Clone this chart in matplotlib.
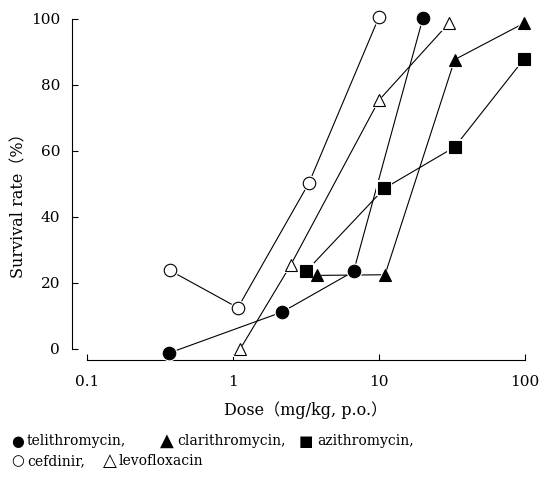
import matplotlib
matplotlib.use("Agg")
import matplotlib.pyplot as plt

# Data (dose mg/kg, survival %)
teli_dose = [0.366, 2.17, 6.7, 20.0]
teli_surv = [-1.2, 11.2, 23.5, 100.3]

clari_dose = [3.74, 11.0, 33.0, 99.0]
clari_surv = [22.3, 22.5, 87.7, 98.8]

azi_dose = [3.16, 10.9, 33.0, 99.0]
azi_surv = [23.5, 48.7, 61.2, 88.0]

cef_dose = [0.37, 1.08, 3.32, 10.0]
cef_surv = [23.8, 12.5, 50.4, 100.6]

levo_dose = [1.12, 2.48, 10.0, 30.2]
levo_surv = [0.0, 25.4, 75.4, 98.8]

xticks = [0.1, 1, 10, 100]
xticklabels = ["0.1", "1", "10", "100"]
yticks = [0, 20, 40, 60, 80, 100]

serif = ["DejaVu Serif", "Noto Sans CJK JP", "DejaVu Sans"]
plt.rcParams["font.family"] = serif

W, H = 541, 482
fig = plt.figure(figsize=(W / 100, H / 100), dpi=100)
left = 87 / W
right = 525 / W
top = 1 - 19 / H
bottom = 1 - 360 / H
ax = fig.add_axes([left, bottom, right - left, top - bottom])

ax.set_xscale("log")
ax.set_xlim(0.1, 100)
ax.set_ylim((349 - 360) / 3.3, 100)

lw = 0.8
series = [
    (cef_dose, cef_surv, "o", "white"),
    (levo_dose, levo_surv, "^", "white"),
    (teli_dose, teli_surv, "o", "black"),
    (azi_dose, azi_surv, "s", "black"),
    (clari_dose, clari_surv, "^", "black"),
]
for xs, ys, m, fc in series:
    ax.plot(xs, ys, color="black", lw=lw, clip_on=False, zorder=2)
    ax.plot(xs, ys, ls="none", marker=m, ms=11.5, mfc="white", mec="white",
            mew=0, clip_on=False, zorder=3)
for xs, ys, m, fc in series:
    ax.plot(xs, ys, ls="none", marker=m, ms=9, mfc=fc, mec="black", mew=0.8,
            clip_on=False, zorder=4)

for s in ["top", "right"]:
    ax.spines[s].set_visible(False)
ax.spines["left"].set_position(("outward", 10.8))
ax.spines["left"].set_bounds(0, 100)
ax.spines["left"].set_linewidth(0.8)
ax.spines["bottom"].set_linewidth(0.8)

ax.set_xticks(xticks)
ax.set_xticklabels(xticklabels)
ax.xaxis.set_minor_locator(matplotlib.ticker.NullLocator())
ax.set_yticks(yticks)
ax.tick_params(axis="both", direction="in", length=4.5, width=0.8, labelsize=11)
ax.tick_params(axis="x", pad=11)
ax.tick_params(axis="y", pad=8.6)

fig.text(306 / W, 1 - 410 / H, "Dose（mg/kg, p.o.）", ha="center", va="center", fontsize=11.5)
fig.text(19 / W, 1 - 202 / H, "Survival rate（%）", ha="center", va="center",
         rotation=90, fontsize=11.5)

sym = ["DejaVu Sans"]
def put(x, y, s, fam=None, fs=10):
    fig.text(x / W, 1 - y / H, s, ha="left", va="center", fontsize=fs,
             family=fam if fam else serif)

y1, y2 = 441, 461
put(11, y1, "●", sym, 10.5)
put(27, y1, "telithromycin,")
put(160, y1, "▲", sym, 13)
put(177, y1, "clarithromycin,")
put(299, y1, "■", sym, 11)
put(317, y1, "azithromycin,")
put(11, y2, "○", sym, 10.5)
put(27, y2, "cefdinir,")
put(103, y2, "△", sym, 13)
put(119, y2, "levofloxacin")

fig.savefig("out.png", dpi=100)
